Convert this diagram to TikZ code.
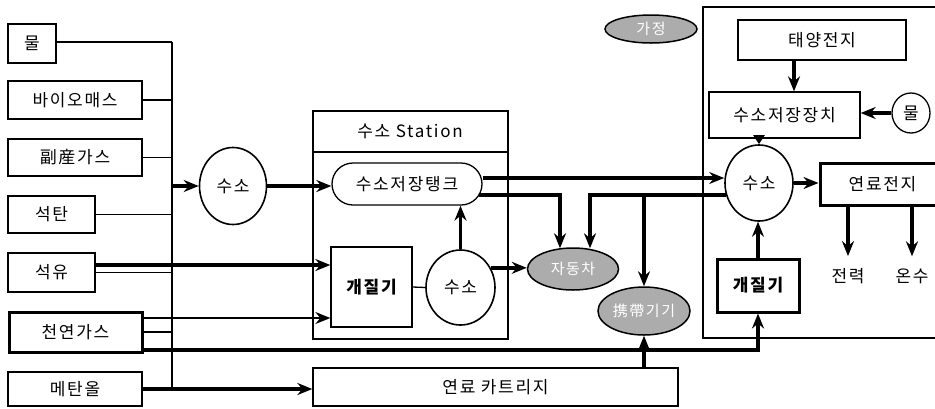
\documentclass[tikz,border=0pt]{standalone}
\usepackage{fontspec}
\setmainfont{Noto Sans CJK KR}[LetterSpace=10]
\usetikzlibrary{arrows.meta,shapes.geometric,shapes.misc,calc}
\begin{document}
\begin{tikzpicture}[x=1pt,y=-1pt,
  every node/.style={font=\fontsize{17}{20}\selectfont, inner sep=0pt},
  box/.style={draw, line width=1.3pt, rectangle},
  tbox/.style={draw, line width=3pt, rectangle},
  thn/.style={line width=1.3pt},
  thk/.style={line width=3.4pt},
  arr/.style={-{Stealth[length=15pt,width=12pt,inset=5pt]}},
  sarr/.style={-{Stealth[length=9pt,width=11pt,inset=0pt]}},
  blob/.style={ellipse, draw, line width=1.5pt, fill=gray!65, text=white, font=\fontsize{15}{17}\selectfont},
  circ/.style={ellipse, draw, line width=1.6pt},
]
\useasboundingbox (0,0) rectangle (935,408);

% left sources
\node[box, minimum width=48, minimum height=39] (mul) at (32,43.5) {물};
\node[box, minimum width=134, minimum height=38] (bio) at (75,100) {바이오매스};
\node[box, minimum width=134, minimum height=37] (bsg) at (75,157.5) {副産가스};
\node[box, minimum width=87, minimum height=37] (coal) at (51.5,214.5) {석탄};
\node[box, minimum width=87, minimum height=39] (oil) at (51.5,272.5) {석유};
\node[tbox, minimum width=133, minimum height=40] (gas) at (75.5,332) {천연가스};
\node[box, minimum width=134, minimum height=34] (meth) at (75,389) {메탄올};

% bus
\coordinate (busT) at (172,42);
\coordinate (busB) at (172,387);
\draw[thn] (busT) -- (busB);
\draw[thn] (mul.east |- busT) -- (busT);
\draw[thn] (bio.east) -- (bio.east -| busT);
\draw[thn] (bsg.east) -- (bsg.east -| busT);
\draw[thn] (coal.east) -- (coal.east -| busT);
\draw[thn] (oil.east) -- (oil.east -| busT);
\draw[thn] (gas.east) -- (gas.east -| busT);

% hydrogen 1
\node[circ, minimum width=67, minimum height=77] (h1) at (233,186) {수소};
\draw[thk,arr] (h1.west -| busT) -- (h1.west);

% station
\draw[thn] (313,111) rectangle (508,339);
\draw[thn] (313,152) -- (508,152);
\node (sttl) at (410,131) {수소 Station};
\node[rounded rectangle, draw, line width=1.3pt, minimum width=150, minimum height=42] (tank) at (407,184) {수소저장탱크};
\node[box, minimum width=81, minimum height=80, font=\fontsize{17}{20}\selectfont\bfseries] (ref1) at (371.5,287) {개질기};
\node[circ, minimum width=69, minimum height=75] (h2) at (460.5,287.5) {수소};
\draw[thn] (ref1.east) -- (h2.west);
\draw[thk,arr] (h2.north) -- (h2.north |- tank.south);
\draw[thk,arr] (h1.east) -- (h1.east -| tank.west);

% users
\node[blob, minimum width=91, minimum height=42] (car) at (573,269) {자동차};
\node[blob, minimum width=92, minimum height=48] (mob) at (644,311) {携帶기기};
\node[blob, minimum width=92, minimum height=28] (home) at (651,29) {가정};

\draw[thk,arr] (h2.33) -- (h2.33 -| car.west);

% oil, gas, methanol lines
\coordinate (oT) at ($(oil.east)+(0,-7.5)$);
\draw[thk,arr] (oT) -- (oT -| ref1.west);
\coordinate (gU) at ($(gas.east)+(0,-14)$);
\draw[thn,arr] (gU) -- (gU -| ref1.west);

\node[box, minimum width=365, minimum height=38] (cart) at (495.5,387) {연료 카트리지};
\draw[thk,arr] (meth.east) -- (meth.east -| cart.west);
\draw[thk,arr] (cart.north -| mob.south) -- (mob.south);

% right system
\draw[thn] (940,7) -- (703,7) -- (703,338) -- (940,338);
\node[box, minimum width=168, minimum height=40] (solar) at (822,40) {태양전지};
\node[box, minimum width=151, minimum height=46] (stor) at (784.5,115) {수소저장장치};
\node[circ, line width=1.3pt, minimum width=38, minimum height=40] (water) at (911,113) {물};
\node[circ, minimum width=68, minimum height=76] (h3) at (759,183) {수소};
\node[tbox, minimum width=125, minimum height=42] (fc) at (882.5,184) {연료전지};
\node[tbox, minimum width=82, minimum height=53, font=\fontsize{17}{20}\selectfont\bfseries] (ref2) at (758,285.5) {개질기};
\node (pw) at (848,276) {전력};
\node (hw) at (912,276) {온수};

\coordinate (sA) at ($(solar.south)+(-28,0)$);
\draw[thk,arr] (sA) -- (sA |- stor.north);
\draw[thk,arr] (water.west) -- (water.west -| stor.east);
\draw[thk,sarr] (h3.north |- stor.south) -- (h3.north);
\draw[thk,arr] (h3.east) -- (h3.east -| fc.west);
\draw[thk,arr] (pw.north |- fc.south) -- ($(pw.north)+(0,-12)$);
\draw[thk,arr] (hw.north |- fc.south) -- ($(hw.north)+(0,-12)$);
\draw[thk,arr] (ref2.north) -- (ref2.north |- h3.south);

\coordinate (gT) at ($(gas.east)+(0,18)$);
\draw[thk,arr] (gT) -| (ref2.south);

% tank outputs
\coordinate (tkA) at ($(tank.east)+(0,-6)$);
\draw[thk,arr] (tkA) -- (tkA -| h3.west);
\coordinate (tkB) at ($(tank.east)+(-4,11)$);
\coordinate (carL) at ($(car.north)+(-13,1)$);
\draw[thk,arr] (tkB) -| (carL);
\coordinate (hL) at ($(h3.west)+(1.5,12)$);
\coordinate (carR) at ($(car.north)+(17,1)$);
\draw[thk,arr] (hL) -| (carR);
\draw[thk,arr] (hL -| mob.north) -- (mob.north);
\end{tikzpicture}
\end{document}
